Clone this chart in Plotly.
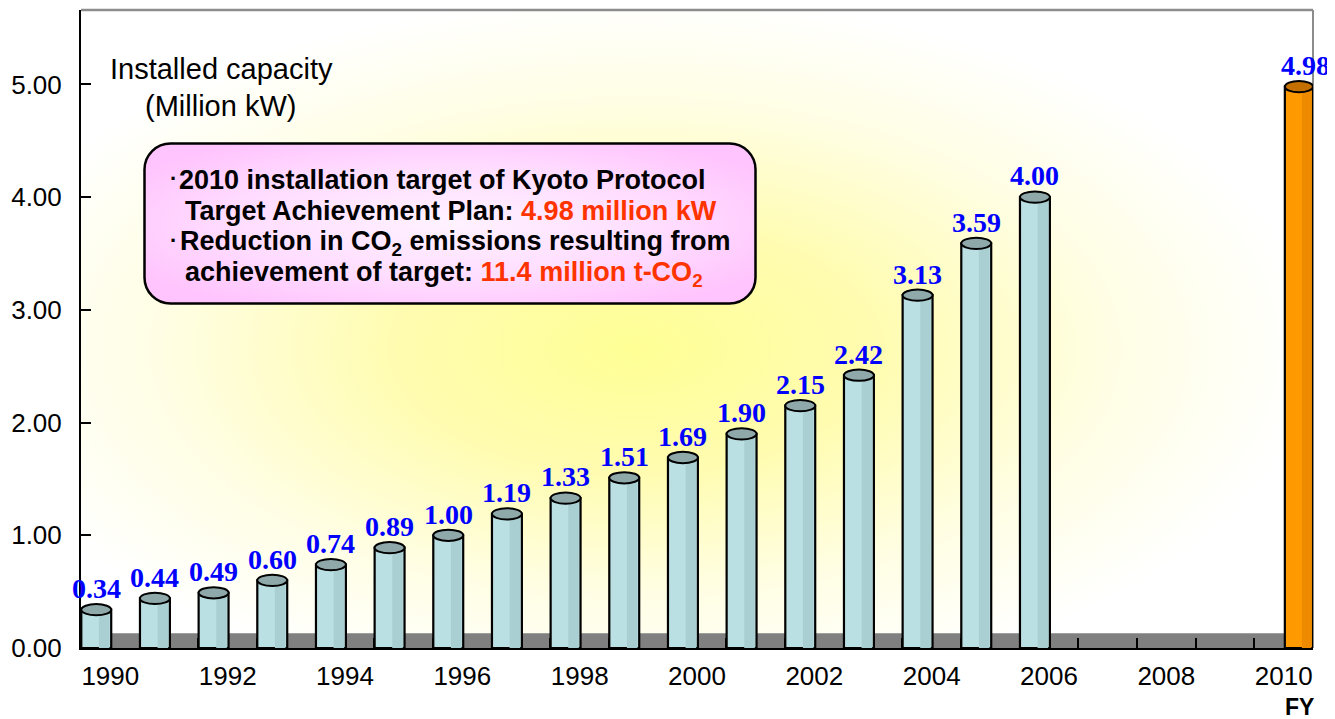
import base64
import plotly.graph_objects as go

# ---------------- data ----------------
years = [1990, 1991, 1992, 1993, 1994, 1995, 1996, 1997, 1998, 1999,
         2000, 2001, 2002, 2003, 2004, 2005, 2006]
capacity = [0.34, 0.44, 0.49, 0.60, 0.74, 0.89, 1.00, 1.19, 1.33, 1.51,
            1.69, 1.90, 2.15, 2.42, 3.13, 3.59, 4.00]
target_year = [2010]
target_value = [4.98]
x_tick_years = [1990, 1992, 1994, 1996, 1998, 2000, 2002, 2004, 2006, 2008, 2010]
y_ticks = [0, 1, 2, 3, 4, 5]
y_tick_labels = ["0.00", "1.00", "2.00", "3.00", "4.00", "5.00"]

# ---------------- geometry / style ----------------
PAGE_OFF = 8                             # default body margin of the html page
W, H = 1335 - PAGE_OFF, 719 - PAGE_OFF
L, R, T, B = 81, 1313, 10, 648           # plot area in page pixels
YMAX = 5.66

def xp(px):
    return (px - L) / (R - L)

def yp(py):
    return (B - py) / (B - T)

def svg_uri(svg):
    return "data:image/svg+xml;base64," + base64.b64encode(svg.encode()).decode()

SANS = "Liberation Sans, Arial, sans-serif"
SERIF = "Liberation Serif, Times New Roman, serif"

BLUE_OFF, BLUE_W = -0.495, 0.51
ORG_OFF, ORG_W = 0.02, 0.48
CAP_H = 0.05

fig = go.Figure()

# main cylinders
fig.add_trace(go.Bar(
    x=years, y=capacity, offset=BLUE_OFF, width=BLUE_W,
    marker=dict(color="#bbe0e3", line=dict(color="black", width=2.2)),
    hoverinfo="x+y", showlegend=False))
# darker right-side shading
fig.add_trace(go.Bar(
    x=years, y=capacity, offset=BLUE_OFF + 0.30, width=0.18,
    marker=dict(color="#aacfd2", line=dict(width=0)),
    hoverinfo="skip", showlegend=False))
# target cylinder
fig.add_trace(go.Bar(
    x=target_year, y=target_value, offset=ORG_OFF, width=ORG_W,
    marker=dict(color="#ff9900", line=dict(color="black", width=2.2)),
    hoverinfo="x+y", showlegend=False))
fig.add_trace(go.Bar(
    x=target_year, y=target_value, offset=ORG_OFF + 0.29, width=0.16,
    marker=dict(color="#ee8a00", line=dict(width=0)),
    hoverinfo="skip", showlegend=False))

shapes = []
annotations = []

# floor band
shapes.append(dict(type="rect", xref="paper", yref="y", x0=0, x1=1, y0=0, y1=0.13,
                   fillcolor="#808080", line=dict(width=0), layer="below"))

LABEL_FONT = dict(family=SERIF, size=28, color="#0000ff", weight="bold")
# cylinder caps + value labels
for yr, v in zip(years, capacity):
    shapes.append(dict(type="circle", xref="x", yref="y",
                       x0=yr + BLUE_OFF, x1=yr + BLUE_OFF + BLUE_W,
                       y0=v - CAP_H, y1=v + CAP_H,
                       fillcolor="#8fa8aa", line=dict(color="black", width=2)))
    annotations.append(dict(x=yr + BLUE_OFF + BLUE_W / 2, y=v + CAP_H, xref="x", yref="y",
                            text=f"{v:.2f}", showarrow=False, xanchor="center",
                            yanchor="bottom", yshift=-2, font=LABEL_FONT))
for yr, v in zip(target_year, target_value):
    shapes.append(dict(type="circle", xref="x", yref="y",
                       x0=yr + ORG_OFF, x1=yr + ORG_OFF + ORG_W,
                       y0=v - CAP_H, y1=v + CAP_H,
                       fillcolor="#c47000", line=dict(color="black", width=2)))
    annotations.append(dict(x=yr + ORG_OFF + ORG_W / 2, y=v + CAP_H, xref="x", yref="y",
                            text=f"{v:.2f}", showarrow=False, xanchor="center",
                            yanchor="bottom", yshift=-2, xshift=7, font=LABEL_FONT))

# top and right frame lines (grey)
shapes.append(dict(type="line", xref="paper", yref="paper", x0=0, x1=1, y0=1, y1=1,
                   line=dict(color="#8c8c8c", width=2.5), layer="below"))
shapes.append(dict(type="line", xref="paper", yref="paper", x0=1, x1=1, y0=0, y1=1,
                   line=dict(color="#8c8c8c", width=2), layer="below"))

# axis title
annotations.append(dict(xref="paper", yref="paper", x=xp(221), y=yp(69), text="Installed capacity",
                        xanchor="center", yanchor="middle", showarrow=False,
                        font=dict(family=SANS, size=29, color="black")))
annotations.append(dict(xref="paper", yref="paper", x=xp(220), y=yp(106), text="(Million kW)",
                        xanchor="center", yanchor="middle", showarrow=False,
                        font=dict(family=SANS, size=29, color="black")))
annotations.append(dict(xref="paper", yref="paper", x=xp(1299), y=yp(707), text="FY",
                        xanchor="center", yanchor="middle", showarrow=False,
                        font=dict(family=SANS, size=23, color="black", weight="bold")))

# info box text
BOXF = dict(family=SANS, size=27, color="black", weight="bold")
RED = "#ff3300"
box_lines = [
    (177, 180, "2010 installation target of Kyoto Protocol"),
    (183, 211, f"Target Achievement Plan: <span style='color:{RED}'>4.98 million kW</span>"),
    (178, 243, "Reduction in CO<sub>2</sub> emissions resulting from"),
    (183, 274, f"achievement of target: <span style='color:{RED}'>11.4 million t-CO<sub>2</sub></span>"),
]
for x0, yc, txt in box_lines:
    annotations.append(dict(xref="paper", yref="paper", x=xp(x0), y=yp(yc), xanchor="left",
                            yanchor="middle", text=txt, showarrow=False, font=BOXF))
for yc in (178, 241):
    annotations.append(dict(xref="paper", yref="paper", x=xp(173), y=yp(yc), text="·",
                            xanchor="center", yanchor="middle", showarrow=False,
                            font=dict(family=SANS, size=22, color="black", weight="bold")))

# background glow + info box as svg images
bg_svg = ('<svg xmlns="http://www.w3.org/2000/svg" width="1232" height="638" viewBox="0 0 1232 638" '
          'preserveAspectRatio="none"><defs><radialGradient id="g" cx="0.45" cy="0.53" r="0.55">'
          '<stop offset="0" stop-color="#ffff95"/><stop offset="0.35" stop-color="#fffcb0"/>'
          '<stop offset="0.7" stop-color="#fffee4"/><stop offset="1" stop-color="#ffffff"/>'
          '</radialGradient></defs><rect width="1232" height="638" fill="url(#g)"/></svg>')
bx0, by0, bx1, by1 = 143, 142, 757, 305
bw, bh = bx1 - bx0, by1 - by0
box_svg = (f'<svg xmlns="http://www.w3.org/2000/svg" width="{bw}" height="{bh}" viewBox="0 0 {bw} {bh}" '
           'preserveAspectRatio="none"><defs><radialGradient id="p" cx="0.5" cy="0.5" r="0.6">'
           '<stop offset="0" stop-color="#fff2ff"/><stop offset="0.6" stop-color="#ffdcff"/>'
           '<stop offset="1" stop-color="#ffc4fd"/></radialGradient></defs>'
           f'<rect x="1.5" y="1.5" width="{bw-3}" height="{bh-3}" rx="26" ry="26" fill="url(#p)" '
           'stroke="black" stroke-width="2.5"/></svg>')
images = [
    dict(source=svg_uri(bg_svg), xref="paper", yref="paper", x=0, y=1, sizex=1, sizey=1,
         xanchor="left", yanchor="top", sizing="stretch", layer="below"),
    dict(source=svg_uri(box_svg), xref="paper", yref="paper", x=xp(bx0), y=yp(by0),
         sizex=bw / (R - L), sizey=bh / (B - T), xanchor="left", yanchor="top",
         sizing="stretch", layer="above"),
]

# category-boundary tick marks on an overlaid x axis
boundaries = [y + 0.5 for y in range(1990, 2010)]
fig.add_trace(go.Scatter(x=[boundaries[0]], y=[0], xaxis="x2", mode="markers",
                         marker=dict(opacity=0), hoverinfo="skip", showlegend=False))

fig.update_layout(
    width=W, height=H,
    margin=dict(l=L - PAGE_OFF, r=W - (R - PAGE_OFF), t=T - PAGE_OFF, b=H - (B - PAGE_OFF),
                autoexpand=False),
    paper_bgcolor="white", plot_bgcolor="rgba(0,0,0,0)",
    barmode="overlay", showlegend=False,
    shapes=shapes, annotations=annotations, images=images,
    xaxis=dict(range=[1989.5, 2010.5], tickmode="array", tickvals=x_tick_years,
               ticktext=[str(y) for y in x_tick_years], ticks="", showgrid=False,
               zeroline=False, showline=True, linecolor="black", linewidth=2,
               tickfont=dict(family=SANS, size=26, color="black"), ticklabelstandoff=4),
    xaxis2=dict(range=[1989.5, 2010.5], overlaying="x", anchor="y", side="bottom",
                tickmode="array", tickvals=boundaries, ticks="inside", ticklen=10,
                tickcolor="black", tickwidth=1.5, showticklabels=False, showgrid=False,
                zeroline=False, showline=False),
    yaxis=dict(range=[0, YMAX], tickmode="array", tickvals=y_ticks, ticktext=y_tick_labels,
               ticks="inside", ticklen=10, tickcolor="black", tickwidth=1.5,
               showgrid=False, zeroline=False, showline=True, linecolor="black", linewidth=2,
               tickfont=dict(family=SANS, size=26, color="black"), ticklabelstandoff=12),
)

fig.write_html("out.html")
